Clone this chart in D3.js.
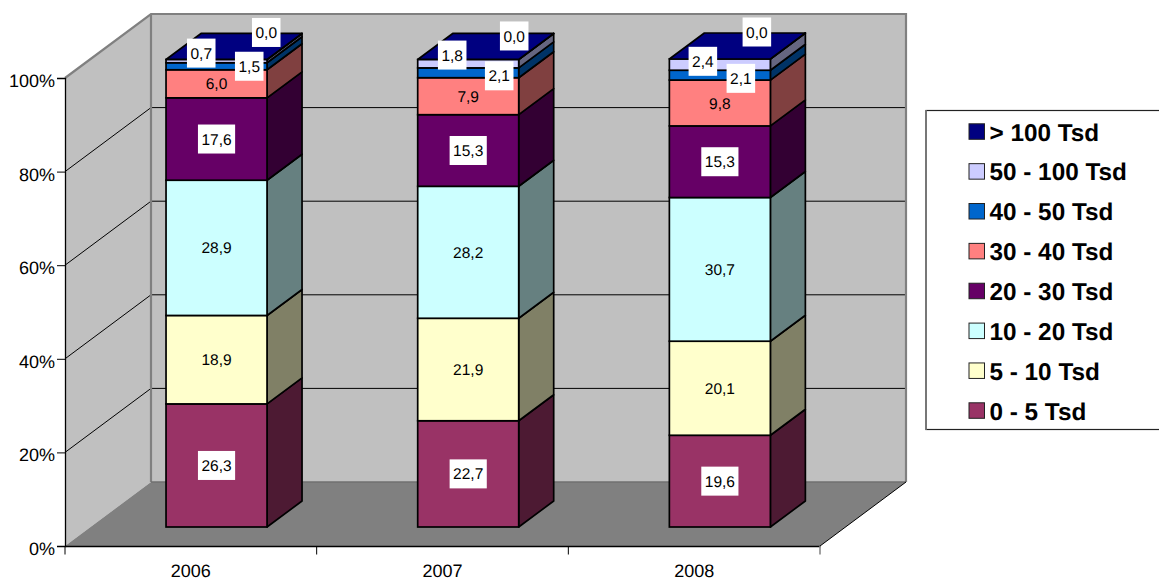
<!DOCTYPE html>
<html><head><meta charset="utf-8"><style>html,body{margin:0;padding:0;background:#fff}svg{display:block}text{font-family:"Liberation Sans",Arial,sans-serif;fill:#000;text-rendering:geometricPrecision}</style>
<script src="https://cdn.jsdelivr.net/npm/d3@7"></script></head><body><svg id="c" width="1159" height="581"></svg>
<script>
const years=["2006","2007","2008"];
const seriesNames=["0 - 5 Tsd","5 - 10 Tsd","10 - 20 Tsd","20 - 30 Tsd","30 - 40 Tsd","40 - 50 Tsd","50 - 100 Tsd","> 100 Tsd"];
const v2006=[26.3,18.9,28.9,17.6,6.0,1.5,0.7,0.0];
const v2007=[22.7,21.9,28.2,15.3,7.9,2.1,1.8,0.0];
const v2008=[19.6,20.1,30.7,15.3,9.8,2.1,2.4,0.0];
const values=[v2006,v2007,v2008];
const frontColors=["#993366","#FFFFCC","#CCFFFF","#660066","#FF8080","#0066CC","#CCCCFF","#000080"];
const sideColors=["#4D1A33","#808066","#668080","#330033","#804040","#003366","#666680","#000040"];
const ticks=[0,20,40,60,80,100];
// series whose value labels sit on a white box
const boxedSeries=[0,3,5,6,7];
// label nudges [dx,dy] per series (small segments are moved off the bar centre)
const nudges={5:[[32.7,0],[31,3],[21,3.2]],6:[[-15.3,-8],[-16,-8.6],[-17,-3.3]],7:[[49.7,-27],[46,-23.5],[37,-27]]};

const svg=d3.select("#c");
const X0=65,X1=820,Y0=546,Y100=78,DX=86,DY=64;
const y=d3.scaleLinear().domain([0,100]).range([Y0,Y100]);
const x=d3.scaleBand().domain(years).range([X0,X1]);
const pts=a=>a.map(p=>p.join(",")).join(" ");
// walls
svg.append("polygon").attr("points",pts([[X0,Y100],[X0+DX,Y100-DY],[X0+DX,Y0-DY],[X0,Y0]])).attr("fill","#C0C0C0");
svg.append("polygon").attr("points",pts([[X0+DX,Y100-DY],[X1+DX,Y100-DY],[X1+DX,Y0-DY],[X0+DX,Y0-DY]])).attr("fill","#C0C0C0");
// gridlines
ticks.filter(t=>t>0&&t<100).forEach(t=>{
  svg.append("polyline").attr("points",pts([[X0,y(t)],[X0+DX,y(t)-DY],[X1+DX,y(t)-DY]])).attr("fill","none").attr("stroke","#000").attr("stroke-width",1);
});
svg.append("polyline").attr("points",pts([[X0,Y100],[X0+DX,Y100-DY],[X1+DX,Y100-DY],[X1+DX,Y0-DY]])).attr("fill","none").attr("stroke","#808080").attr("stroke-width",2.2);
svg.append("line").attr("x1",X0+DX).attr("y1",Y100-DY).attr("x2",X0+DX).attr("y2",Y0-DY).attr("stroke","#808080").attr("stroke-width",2.2);
svg.append("polygon").attr("points",pts([[X0,Y0],[X1,Y0],[X1+DX,Y0-DY],[X0+DX,Y0-DY]])).attr("fill","#808080");
svg.append("line").attr("x1",X0+DX).attr("y1",Y0-DY).attr("x2",X1+DX).attr("y2",Y0-DY).attr("stroke","#707070").attr("stroke-width",1.5);
svg.append("polyline").attr("points",pts([[X1,Y0],[X1+DX,Y0-DY]])).attr("fill","none").attr("stroke","#000").attr("stroke-width",1);
// axes
const ay=svg.append("g").attr("transform",`translate(${X0},0)`).call(d3.axisLeft(y).tickValues(ticks).tickFormat(d=>d+"%").tickSize(8).tickPadding(2));
ay.selectAll("text").style("font-size","18px").attr("dy","0.47em");
const ax=svg.append("g").attr("transform",`translate(0,${Y0})`).call(d3.axisBottom(x).tickSize(0).tickPadding(18));
ax.selectAll("text").style("font-size","18px");
svg.append("g").selectAll("line").data(d3.range(4)).join("line").attr("x1",i=>X0+i*x.bandwidth()).attr("x2",i=>X0+i*x.bandwidth()).attr("y1",Y0).attr("y2",Y0+8.5).attr("stroke",i=>i==3?"#808080":"#000").attr("stroke-width",i=>i==3?1.5:1);
svg.selectAll(".domain").attr("stroke","#000").attr("stroke-width",1.3);
// bars
const barW=101, gapFrontY=19, barDX=35, barDY=26;
const by=d3.scaleLinear().domain([0,100]).range([Y0-gapFrontY,Y100-gapFrontY]);
const labels=[];
years.forEach((yr,i)=>{
  const left=x(yr)+(x.bandwidth()-barW)/2+25.7, right=left+barW;
  let acc=0;
  const g=svg.append("g");
  values[i].forEach((v,s)=>{
    const y0=by(acc),y1=by(acc+v);
    g.append("polygon").attr("points",pts([[right,y0],[right+barDX,y0-barDY],[right+barDX,y1-barDY],[right,y1]])).attr("fill",sideColors[s]).attr("stroke","#000").attr("stroke-width",1.7).attr("stroke-linejoin","round");
    g.append("rect").attr("x",left).attr("y",y1).attr("width",barW).attr("height",y0-y1).attr("fill",frontColors[s]).attr("stroke","#000").attr("stroke-width",1.7);
    const n=nudges[s]?nudges[s][i]:[0,0];
    labels.push({t:v.toFixed(1).replace(".",","),s,x:(left+right)/2+n[0],y:(y0+y1)/2+n[1]});
    acc+=v;
  });
  const yt=by(acc);
  g.append("polygon").attr("points",pts([[left,yt],[right,yt],[right+barDX,yt-barDY],[left+barDX,yt-barDY]])).attr("fill",frontColors[7]).attr("stroke","#000").attr("stroke-width",1.7).attr("stroke-linejoin","round");
});
const lw=d=>d.t.length*8.62-4.31+7;
const lg=svg.append("g").selectAll("g").data(labels).join("g").attr("transform",d=>`translate(${d.x},${d.y})`);
lg.filter(d=>boxedSeries.includes(d.s)).append("rect").attr("x",d=>-lw(d)/2).attr("y",-14.5).attr("width",lw).attr("height",29).attr("fill","#fff");
lg.append("text").attr("text-anchor","middle").attr("dy","0.36em").style("font-size","15.5px").text(d=>d.t);
// legend
svg.append("rect").attr("x",926).attr("y",110.5).attr("width",240).attr("height",319).attr("fill","#fff").attr("stroke","#222").attr("stroke-width",1.2);
svg.append("line").attr("x1",926).attr("x2",926).attr("y1",110).attr("y2",430).attr("stroke","#777").attr("stroke-width",1.6);
const order=d3.range(7,-1,-1);
const ly=d3.scalePoint().domain(order).range([131.5,410.5]);
const le=svg.append("g").selectAll("g").data(order).join("g").attr("transform",s=>`translate(0,${ly(s)})`);
le.append("rect").attr("x",969).attr("y",-7.7).attr("width",15.5).attr("height",15.5).attr("fill",s=>frontColors[s]).attr("stroke","#222").attr("stroke-width",1);
le.append("text").attr("x",989.5).attr("y",9).style("font-size","24.3px").style("font-weight","700").text(s=>seriesNames[s]);
</script></body></html>
